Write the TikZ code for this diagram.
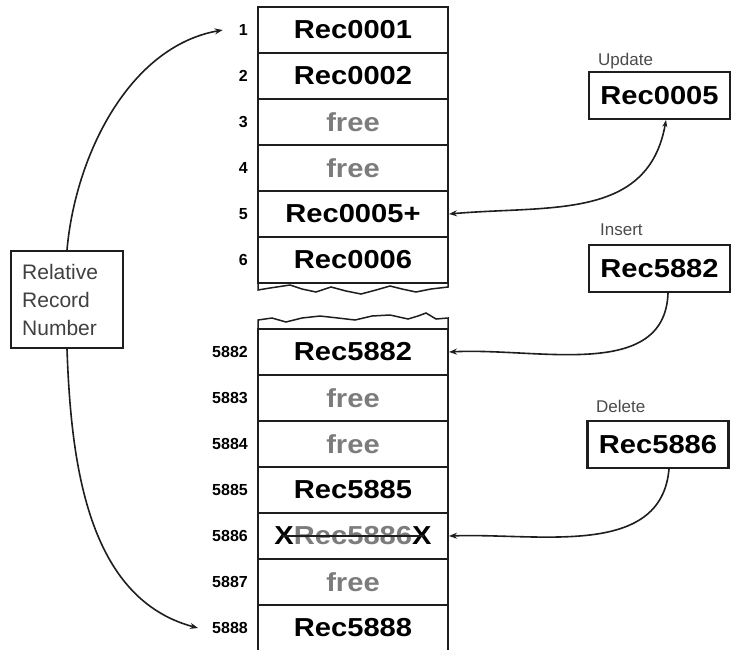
\documentclass[tikz,border=0pt]{standalone}
\usepackage{fontspec}
\setmainfont{Liberation Sans}
\usetikzlibrary{arrows.meta}
\definecolor{ink}{HTML}{1E1E1E}
\definecolor{freegray}{HTML}{7C7C7C}
\newcommand{\widetxt}[1]{\scalebox{1.12}[1]{#1}}
\begin{document}
\begin{tikzpicture}[x=1pt,y=-1pt,
  rowbox/.style={draw=ink, line width=2pt, minimum width=190pt, minimum height=46pt, inner sep=0pt,
     font=\bfseries\fontsize{26}{26}\selectfont},
  numlbl/.style={anchor=east, inner sep=0pt, font=\bfseries\fontsize{16}{16}\selectfont},
  opbox/.style={draw=ink, line width=2.5pt, minimum width=141pt, minimum height=47pt, inner sep=0pt,
     font=\bfseries\fontsize{26}{26}\selectfont},
  oplbl/.style={anchor=base west, inner sep=0pt, text=ink!80, font=\fontsize{17}{17}\selectfont},
  conn/.style={draw=ink, line width=1.6pt},
  tip/.style={-{Stealth[length=8pt,width=6pt]}},
  freetxt/.style={text=freegray}
]
\useasboundingbox (0,0) rectangle (733,649);
\clip (0,0) rectangle (733,649);
\fill[white] (0,0) rectangle (733,649);

% upper segment
\node[rowbox] (r1) at (353,30) {\widetxt{Rec0001}};
\node[rowbox] (r2) at (353,76) {\widetxt{Rec0002}};
\node[rowbox, freetxt] (r3) at (353,122) {\widetxt{free}};
\node[rowbox, freetxt] (r4) at (353,168) {\widetxt{free}};
\node[rowbox] (r5) at (353,214) {\widetxt{Rec0005+}};
\node[rowbox] (r6) at (353,260) {\widetxt{Rec0006}};

% lower segment
\node[rowbox] (s1) at (353,352) {\widetxt{Rec5882}};
\node[rowbox, freetxt] (s2) at (353,398) {\widetxt{free}};
\node[rowbox, freetxt] (s3) at (353,444) {\widetxt{free}};
\node[rowbox] (s4) at (353,490) {\widetxt{Rec5885}};
\node[rowbox] (s5) at (353,536) {\widetxt{X\textcolor{freegray}{Rec5886}X}};
\node[rowbox, freetxt] (s6) at (353,582) {\widetxt{free}};
\node[rowbox] (s7) at (353,628) {\widetxt{Rec5888}};
\draw[ink, line width=2pt] (282,536) -- (424,536);

% break lines
\draw[ink, line width=1.5pt] (258,283) -- (258,290) -- (270,288) -- (290,285) -- (302,289) -- (316,292)
  -- (331,287) -- (346,291) -- (361,294) -- (376,290) -- (390,286) -- (402,289) -- (416,292)
  -- (431,289) -- (448,287) -- (448,283);
\draw[ink, line width=1.5pt] (258,329) -- (258,320) -- (272,318) -- (286,322) -- (302,318) -- (320,316)
  -- (338,318) -- (355,320) -- (372,316) -- (390,315) -- (408,319) -- (418,316) -- (426,313)
  -- (436,319) -- (448,318) -- (448,329);

% row numbers
\node[numlbl] (n1) at (248,30) {1};
\node[numlbl] (n2) at (248,76) {2};
\node[numlbl] (n3) at (248,122) {3};
\node[numlbl] (n4) at (248,168) {4};
\node[numlbl] (n5) at (248,214) {5};
\node[numlbl] (n6) at (248,260) {6};
\node[numlbl] (m1) at (248,352) {5882};
\node[numlbl] (m2) at (248,398) {5883};
\node[numlbl] (m3) at (248,444) {5884};
\node[numlbl] (m4) at (248,490) {5885};
\node[numlbl] (m5) at (248,536) {5886};
\node[numlbl] (m6) at (248,582) {5887};
\node[numlbl] (m7) at (248,628) {5888};

% relative record number box
\node[draw=ink, line width=2pt, minimum width=112pt, minimum height=97pt, inner sep=0pt] (rrn) at (67,299.5) {};
\node[anchor=north west, inner sep=0pt, align=left, font=\fontsize{21}{28}\selectfont, text=ink!85] (rrt) at (22,264)
  {Relative\\Record\\Number};

% operation boxes
\node[oplbl] (ul) at (598,65) {Update};
\node[opbox] (upd) at (659.5,95.5) {\widetxt{Rec0005}};
\node[oplbl] (il) at (600,235) {Insert};
\node[opbox] (ins) at (659.5,268.5) {\widetxt{Rec5882}};
\node[oplbl] (dl) at (596,412) {Delete};
\node[opbox] (del) at (658,444.5) {\widetxt{Rec5886}};

\coordinate (us) at (666,120);
\coordinate (is) at (668,293);
\coordinate (ds) at (669,469);

% connectors
\draw[conn, {Stealth[length=7pt,width=5pt]}-{Stealth[length=8pt,width=6pt]}] (us) to[out=-100, in=5, looseness=1.1] (r5.east);
\draw[conn, tip] (is) to[out=-92, in=3, looseness=1.0] (s1.east);
\draw[conn, tip] (ds) to[out=-95, in=2, looseness=1.0] (s5.east);
\draw[conn, tip] (rrn.north) to[out=85, in=190, looseness=0.9] ([xshift=-16pt]n1.west);
\draw[conn, tip] (rrn.south) to[out=-88, in=165, looseness=0.95] ([xshift=-14pt]m7.west);
\end{tikzpicture}
\end{document}
